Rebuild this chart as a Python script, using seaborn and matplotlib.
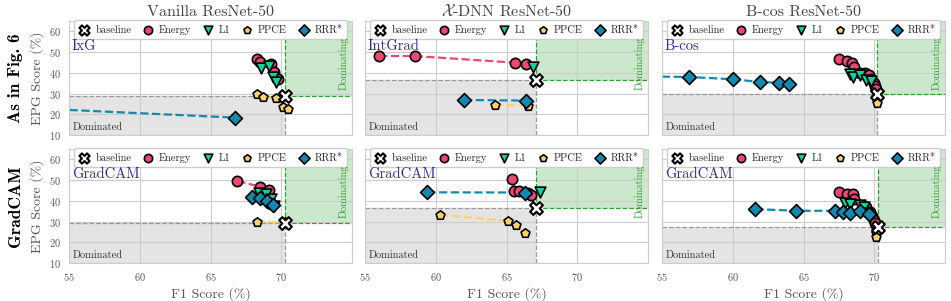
import matplotlib
matplotlib.use("Agg")
import matplotlib.pyplot as plt
import seaborn as sns

# ---- data (F1 %, EPG %) ----
methods = ["baseline", "Energy", "L1", "PPCE", "RRR*"]

vanilla_ixg = {
    "baseline": ([70.3], [29.0]),
    "Energy": ([68.3, 68.5, 69.3, 69.5, 69.8], [46.6, 45.3, 44.2, 40.4, 36.9]),
    "L1": ([68.6, 69.1, 69.4, 69.6], [42.2, 43.4, 38.0, 35.4]),
    "PPCE": ([68.3, 68.7, 69.6, 70.1, 70.5], [29.8, 28.3, 27.7, 23.4, 22.7]),
    "RRR*": ([48.0, 66.7], [24.3, 18.4]),
}
xdnn_intgrad = {
    "baseline": ([67.1], [36.5]),
    "Energy": ([56.0, 58.5, 65.6, 66.4], [48.1, 48.1, 44.9, 44.1]),
    "L1": ([66.85], [42.7]),
    "PPCE": ([64.2, 66.5], [24.7, 24.0]),
    "RRR*": ([62.0, 66.4], [26.9, 26.6]),
}
bcos_bcos = {
    "baseline": ([70.2], [29.6]),
    "Energy": ([67.5, 68.05, 68.4, 68.6, 69.0, 69.35, 69.6, 69.8, 69.95, 70.05, 70.15],
               [46.5, 45.8, 44.9, 43.0, 39.8, 39.7, 38.8, 36.9, 35.3, 33.6, 32.0]),
    "L1": ([68.3, 68.5, 69.0, 69.4, 69.8], [39.4, 37.8, 38.8, 36.5, 36.0]),
    "PPCE": ([70.1, 70.2], [28.3, 25.2]),
    "RRR*": ([50.0, 56.9, 60.0, 61.9, 63.3, 64.0], [38.6, 38.0, 36.9, 35.6, 35.2, 34.6]),
}
vanilla_gradcam = {
    "baseline": ([70.3], [29.4]),
    "Energy": ([66.9, 68.5, 69.1, 69.2, 69.3], [49.6, 46.8, 45.2, 39.6, 38.3]),
    "L1": ([68.4, 68.9, 69.3, 69.5], [43.6, 43.1, 41.0, 37.6]),
    "PPCE": ([68.3, 70.3], [29.9, 29.7]),
    "RRR*": ([67.95, 68.5, 69.0, 69.4], [41.9, 41.5, 39.8, 38.0]),
}
xdnn_gradcam = {
    "baseline": ([67.1], [36.4]),
    "Energy": ([65.4, 65.5, 65.9, 66.5, 66.7], [50.4, 44.9, 44.6, 43.8, 43.0]),
    "L1": ([67.4], [44.3]),
    "PPCE": ([60.3, 65.1, 65.7, 66.3], [33.2, 30.3, 28.3, 24.6]),
    "RRR*": ([59.4, 66.3], [44.1, 44.0]),
}
bcos_gradcam = {
    "baseline": ([70.3], [27.2]),
    "Energy": ([67.5, 68.05, 68.5, 68.6, 69.4, 69.7, 69.85, 69.95, 70.05],
               [44.1, 43.4, 43.4, 40.8, 36.9, 34.8, 32.8, 30.8, 29.2]),
    "L1": ([67.9, 68.3, 69.0, 69.25, 69.5], [38.9, 38.5, 37.8, 36.8, 34.0]),
    "PPCE": ([70.1, 70.15, 70.15], [26.4, 24.5, 22.5]),
    "RRR*": ([61.6, 64.5, 67.2, 67.8, 68.3, 69.0, 69.6], [36.0, 35.2, 35.2, 34.8, 34.2, 34.9, 33.5]),
}

panels = [[vanilla_ixg, xdnn_intgrad, bcos_bcos],
          [vanilla_gradcam, xdnn_gradcam, bcos_gradcam]]
col_titles = ["Vanilla ResNet-50", r"$\mathcal{X}$-DNN ResNet-50", "B-cos ResNet-50"]
attr_names = [["IxG", "IntGrad", "B-cos"], ["GradCAM", "GradCAM", "GradCAM"]]
row_labels = ["As in Fig. 6", "GradCAM"]

colors = {"baseline": "white", "Energy": "#EF476F", "L1": "#06D6A0",
          "PPCE": "#FFD166", "RRR*": "#118AB2"}
markers = {"baseline": "X", "Energy": "o", "L1": "v", "PPCE": "p", "RRR*": "D"}
msize = {"baseline": 85, "Energy": 55, "L1": 60, "PPCE": 45, "RRR*": 50}

XLIM = (55, 75)
YLIM = (10, 65)

sns.set_style("whitegrid")
plt.rcParams["font.family"] = ["cmr10", "DejaVu Serif"]
plt.rcParams["mathtext.fontset"] = "cm"
plt.rcParams["axes.formatter.use_mathtext"] = True
plt.rcParams["axes.unicode_minus"] = False

grey = "#555555"
fig = plt.figure(figsize=(9.51, 3.01), dpi=100)

lefts = [69 / 951, 365 / 951, 662 / 951]
bottoms = [1 - 135 / 301, 1 - 263 / 301]
w, h = 283 / 951, 114 / 301

for r in range(2):
    for c in range(3):
        ax = fig.add_axes([lefts[c], bottoms[r], w, h])
        data = panels[r][c]
        bx, by = data["baseline"][0][0], data["baseline"][1][0]

        # dominated / dominating regions
        ax.fill_between([XLIM[0], bx], YLIM[0], by, color="#e4e4e4", zorder=0.3, lw=0)
        ax.fill_between([bx, XLIM[1]], by, YLIM[1], color="#2ca02c", alpha=0.24, zorder=0.3, lw=0)
        ax.plot([XLIM[0], bx], [by, by], ls="--", color="#999999", lw=0.9, zorder=1)
        ax.plot([bx, bx], [YLIM[0], by], ls="--", color="#999999", lw=0.9, zorder=1)
        ax.plot([bx, XLIM[1]], [by, by], ls="--", color="#2ca02c", lw=0.9, zorder=1)
        ax.plot([bx, bx], [by, YLIM[1]], ls="--", color="#2ca02c", lw=0.9, zorder=1)

        for m in ["Energy", "L1", "PPCE", "RRR*"]:
            xs, ys = data[m]
            if len(xs) > 1:
                sns.lineplot(x=xs, y=ys, sort=False, estimator=None, ax=ax,
                             color=colors[m], linestyle="--", lw=1.6, zorder=2, legend=False)
        for m in ["Energy", "L1", "PPCE", "RRR*", "baseline"]:
            xs, ys = data[m]
            sns.scatterplot(x=xs, y=ys, ax=ax, color=colors[m], marker=markers[m],
                            s=msize[m], edgecolor="black",
                            linewidth=1.5 if m == "baseline" else 1.2,
                            label=m, zorder=4 if m == "baseline" else 3)

        ax.set_xlim(*XLIM)
        ax.set_ylim(*YLIM)
        ax.set_xticks([55, 60, 65, 70])
        ax.set_yticks([10, 20, 30, 40, 50, 60])
        ax.tick_params(labelsize=7.5, colors=grey, pad=2)
        if r == 0:
            ax.tick_params(labelbottom=False)
            ax.set_title(col_titles[c], fontsize=11.5, color="#444444", pad=3.5)
        else:
            ax.set_xlabel("F1 Score (%)", fontsize=10, color=grey, labelpad=3)
        if c == 0:
            ax.set_ylabel("EPG Score (%)", fontsize=10, color=grey, labelpad=4)
        else:
            ax.tick_params(labelleft=False)
            ax.set_ylabel("")

        ax.text(0.01, 0.84, attr_names[r][c], transform=ax.transAxes, fontsize=10.5,
                color="#2b2b9c", va="top", ha="left", zorder=6)
        ax.text(0.012, 0.025, "Dominated", transform=ax.transAxes, fontsize=7.5,
                color="#333333", va="bottom", ha="left", zorder=6)
        ax.text(0.99, 0.63, "Dominating", transform=ax.transAxes, fontsize=7.5,
                color="#3a9a3a", va="center", ha="right", rotation=90, zorder=6)

        handles, labels = ax.get_legend_handles_labels()
        order = [labels.index(m) for m in methods]
        ax.legend([handles[i] for i in order], [labels[i] for i in order],
                  loc="upper center", bbox_to_anchor=(0.5, 1.01), ncol=5,
                  fontsize=7.5, frameon=True, framealpha=1, edgecolor="#cccccc",
                  handletextpad=0.45, columnspacing=1.0, borderpad=0.45,
                  handlelength=1.2, borderaxespad=0.0, markerscale=0.8)
        for sp in ax.spines.values():
            sp.set_color("#cccccc")

for r, lab in enumerate(row_labels):
    fig.text(0.016, bottoms[r] + h / 2, lab, rotation=90, fontsize=12.5,
             family="cmb10", va="center", ha="center", color="black")

fig.savefig("out.png", dpi=100)
